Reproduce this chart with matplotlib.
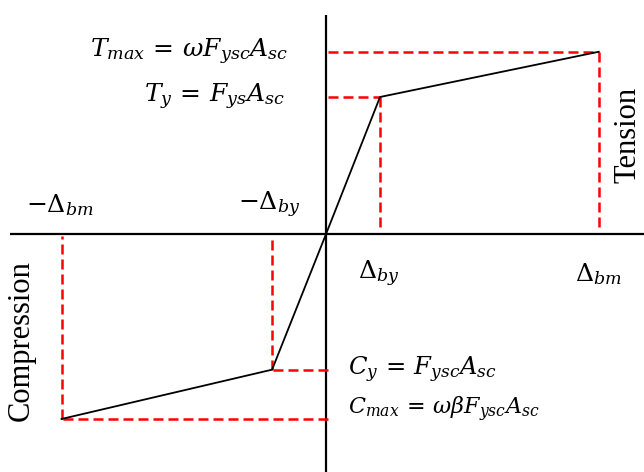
import matplotlib.pyplot as plt

plt.rcParams['mathtext.fontset'] = 'dejavuserif'

# Кривая "сила - перемещение" (безразмерные единицы: Δby = 1, Ty = 1)
disp_tension = [0.0, 1.0, 5.05]
force_tension = [0.0, 1.0, 1.33]
disp_compression = [0.0, -1.0, -4.9]
force_compression = [0.0, -0.99, -1.35]

disp_labels = [r'$-\Delta_{bm}$', r'$-\Delta_{by}$', r'$\Delta_{by}$', r'$\Delta_{bm}$']
force_labels = [r'$T_{max}\,=\,\omega F_{ysc}A_{sc}$', r'$T_y\,=\,F_{ys}A_{sc}$',
                r'$C_y\,=\,F_{ysc}A_{sc}$', r'$C_{max}\,=\,\omega\beta F_{ysc}A_{sc}$']

red = '#ff0000'
dash = (0, (4, 2))

fig = plt.figure(figsize=(6.44, 4.72), dpi=100)
ax = fig.add_axes([0, 0, 1, 1])
ax.set_xlim(-6.04, 5.89)
ax.set_ylim(-1.737, 1.708)
ax.axis('off')

# Оси
ax.plot([-5.85, 5.89], [0, 0], color='black', lw=1.6, solid_capstyle='butt')
ax.plot([0, 0], [1.6, -1.737], color='black', lw=1.6, solid_capstyle='butt')

# Пунктирные линии к осям
for x, y in zip(disp_tension[1:] + disp_compression[1:], force_tension[1:] + force_compression[1:]):
    ax.plot([0.03, x], [y, y], color=red, lw=1.8, linestyle=dash)
    ax.plot([x, x], [y, 0.03 if y > 0 else -0.015], color=red, lw=1.8, linestyle=dash)

# Кривая
ax.plot(disp_tension, force_tension, color='black', lw=1.3)
ax.plot(disp_compression, force_compression, color='black', lw=1.3)

# Подписи
ax.text(-0.7, force_tension[2], force_labels[0], fontsize=18, ha='right', va='center')
ax.text(-0.76, force_tension[1], force_labels[1], fontsize=18, ha='right', va='center')
ax.text(0.4, force_compression[1], force_labels[2], fontsize=17.5, ha='left', va='center')
ax.text(0.4, -1.28, force_labels[3], fontsize=16, ha='left', va='center')

ax.text(-4.93, 0.21, disp_labels[0], fontsize=18, ha='center', va='center')
ax.text(-1.05, 0.21, disp_labels[1], fontsize=18, ha='center', va='center')
ax.text(0.98, -0.29, disp_labels[2], fontsize=18, ha='center', va='center')
ax.text(5.05, -0.29, disp_labels[3], fontsize=18, ha='center', va='center')

# Подпись "Tension" у правого края
ax.text(0.998, 0.715, 'Tension', fontsize=22, family='Liberation Serif',
        rotation=90, ha='right', va='center', transform=ax.transAxes)
ax.text(-5.64, -0.78, 'Compression', fontsize=22, family='Liberation Serif',
        rotation=90, ha='center', va='center')

fig.savefig('out.png', dpi=100)
